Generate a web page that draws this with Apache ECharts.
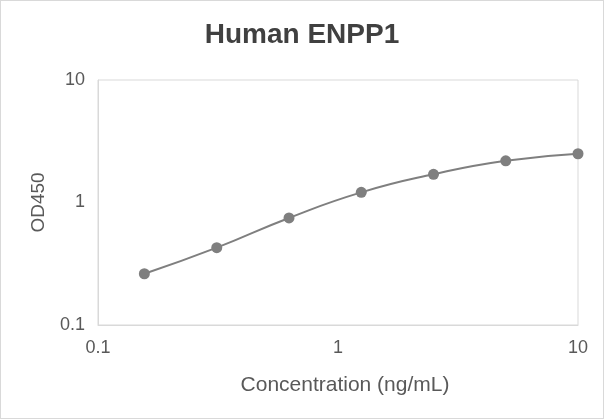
<!DOCTYPE html>
<html><head><meta charset="utf-8">
<script src="https://cdn.jsdelivr.net/npm/echarts@6/dist/echarts.min.js"></script>
<style>
html,body{margin:0;padding:0;background:#fff;}
#c{width:602px;height:417px;border:1px solid #d9d9d9;}
</style></head>
<body><div id="c"></div>
<script>
const titleText = 'Human ENPP1';
const xName = 'Concentration (ng/mL)';
const yName = 'OD450';
const concentrations = [0.156, 0.3125, 0.625, 1.25, 2.5, 5, 10];
const od450 = [0.262, 0.428, 0.748, 1.21, 1.70, 2.19, 2.50];

const chart = echarts.init(document.getElementById('c'));
const textColor = '#595959';
const font = 'Liberation Sans, Arial';
chart.setOption({
  animation: false,
  title: {
    text: titleText, left: 'center', top: 15,
    textStyle: {fontFamily: font, fontSize: 28, fontWeight: 'bold', color: '#404040'}
  },
  grid: {left: 97, right: 25, top: 79, bottom: 93, show: true, borderColor: '#d9d9d9', borderWidth: 1},
  xAxis: {
    type: 'log', logBase: 10, min: 0.1, max: 10,
    name: xName, nameLocation: 'middle', nameGap: 50,
    nameTextStyle: {fontFamily: font, fontSize: 21, color: textColor, padding: [0, 0, 0, 14]},
    axisLine: {show: true, lineStyle: {color: '#d9d9d9', width: 1}},
    axisTick: {show: false},
    splitLine: {show: false},
    minorTick: {show: false},
    axisLabel: {color: textColor, fontFamily: font, fontSize: 18, margin: 14}
  },
  yAxis: {
    type: 'log', logBase: 10, min: 0.1, max: 10,
    name: yName, nameLocation: 'middle', nameGap: 50,
    nameTextStyle: {fontFamily: font, fontSize: 19, color: textColor},
    axisLine: {show: true, lineStyle: {color: '#d9d9d9', width: 1}},
    axisTick: {show: false},
    splitLine: {show: false},
    axisLabel: {color: textColor, fontFamily: font, fontSize: 18, margin: 13}
  },
  series: [{
    type: 'line',
    data: concentrations.map((c, i) => [c, od450[i]]),
    smooth: true,
    symbol: 'circle', symbolSize: 11,
    itemStyle: {color: '#7f7f7f'},
    lineStyle: {color: '#7f7f7f', width: 2}
  }]
});
</script></body></html>
